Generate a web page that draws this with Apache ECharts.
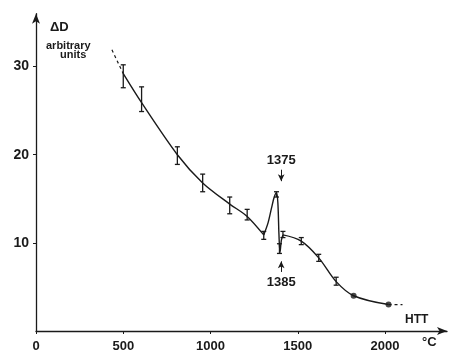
<!DOCTYPE html>
<html><head><meta charset="utf-8">
<script src="https://cdn.jsdelivr.net/npm/echarts@6/dist/echarts.min.js"></script>
<style>html,body{margin:0;padding:0;background:#fff}#c{width:450px;height:353px}</style>
</head><body><div id="c"></div>
<script>
// error-bar measurements
const barX    = [500, 605, 810, 955, 1110, 1210, 1305, 1378, 1395, 1415, 1520, 1620, 1720];
const barLow  = [27.6, 24.9, 18.9, 15.8, 13.3, 12.6, 10.4, 15.2, 8.8, 10.6, 9.8, 7.9, 5.2];
const barHigh = [30.2, 27.7, 20.9, 17.8, 15.2, 13.8, 11.3, 15.8, 9.9, 11.3, 10.6, 8.7, 6.1];
// solid-dot measurements
const dotX = [1820, 2020];
const dotY = [4.0, 3.0];
// fitted curve, in three pieces
const curveAX = [500, 605, 810, 955, 1110, 1210, 1305];
const curveAY = [29.2, 25.9, 20.0, 16.8, 14.4, 13.0, 10.9];
const curveBX = [1305, 1330, 1350, 1365, 1378, 1386, 1392, 1398, 1406, 1415];
const curveBY = [10.9, 12.3, 14.0, 15.2, 15.7, 14.5, 11.0, 8.9, 10.3, 10.9];
const curveCX = [1415, 1520, 1620, 1720, 1820, 2020];
const curveCY = [10.9, 10.2, 8.3, 5.6, 4.0, 3.0];
// dashed extrapolations
const dashStartX = [435, 500];
const dashStartY = [31.9, 29.2];
const dashEndX = [2020, 2100];
const dashEndY = [3.0, 3.0];
// annotations
const annX = [1405, 1405];
const annY = [19.4, 5.5];
const annText = ['1375', '1385'];
const arrowFromY = [18.3, 6.7];
const arrowToY = [17.0, 7.9];
// tick labels
const xTicks = [0, 500, 1000, 1500, 2000];
const yTicks = [10, 20, 30];

const ink = '#1a1a1a';
const font = 'Liberation Sans';
const chart = echarts.init(document.getElementById('c'), null, {renderer: 'canvas'});

const pairs = (xs, ys) => xs.map((x, i) => [x, ys[i]]);
const curveLine = {color: ink, width: 1.4};

chart.setOption({
  animation: false,
  backgroundColor: '#fff',
  grid: {left: 36, right: 3, top: 13.7, bottom: 21.4},
  xAxis: {
    type: 'value', min: 0, max: 2355, interval: 500,
    axisLine: {lineStyle: {color: ink, width: 1.3}, symbol: ['none', 'arrow'], symbolSize: [6, 10]},
    axisTick: {show: true, length: 3, lineStyle: {color: ink}},
    axisLabel: {color: ink, fontFamily: font, fontSize: 13, fontWeight: 'bold', margin: 9, showMaxLabel: false,
      formatter: v => xTicks.includes(v) ? String(v) : ''},
    splitLine: {show: false}
  },
  yAxis: {
    type: 'value', min: 0, max: 36, interval: 10,
    axisLine: {lineStyle: {color: ink, width: 1.3}, symbol: ['none', 'arrow'], symbolSize: [6, 10]},
    axisTick: {show: true, length: 3, lineStyle: {color: ink}},
    axisLabel: {color: ink, fontFamily: font, fontSize: 14, fontWeight: 'bold', margin: 7, showMinLabel: false, showMaxLabel: false,
      formatter: v => yTicks.includes(v) ? String(v) : ''},
    splitLine: {show: false}
  },
  series: [
    {type: 'line', data: pairs(curveAX, curveAY), smooth: 0.3, symbol: 'none', lineStyle: curveLine, z: 3},
    {type: 'line', data: pairs(curveBX, curveBY), smooth: 0.3, symbol: 'none', lineStyle: curveLine, z: 3,
     markLine: {silent: true, symbol: ['none', 'arrow'], symbolSize: [5, 7], label: {show: false},
       lineStyle: {color: ink, width: 1, type: 'solid'},
       data: annX.map((x, i) => [{coord: [x, arrowFromY[i]]}, {coord: [x, arrowToY[i]]}])}},
    {type: 'line', data: pairs(curveCX, curveCY), smooth: 0.35, symbol: 'none', lineStyle: curveLine, z: 3},
    {type: 'line', data: pairs(dashStartX, dashStartY), symbol: 'none',
     lineStyle: {color: ink, width: 1.2, type: [3, 3]}},
    {type: 'line', data: pairs(dashEndX, dashEndY), symbol: 'none',
     lineStyle: {color: ink, width: 1.2, type: [3, 3]}},
    {type: 'custom', data: barX.map((x, i) => [x, barLow[i], barHigh[i]]), z: 4,
     renderItem: (params, api) => {
       const lo = api.coord([api.value(0), api.value(1)]);
       const hi = api.coord([api.value(0), api.value(2)]);
       const w = 2.5;
       const st = {stroke: ink, lineWidth: 1.3};
       return {type: 'group', children: [
         {type: 'line', shape: {x1: lo[0], y1: lo[1], x2: hi[0], y2: hi[1]}, style: st},
         {type: 'line', shape: {x1: lo[0] - w, y1: lo[1], x2: lo[0] + w, y2: lo[1]}, style: st},
         {type: 'line', shape: {x1: hi[0] - w, y1: hi[1], x2: hi[0] + w, y2: hi[1]}, style: st}
       ]};
     }},
    {type: 'scatter', data: pairs(dotX, dotY), symbol: 'circle', symbolSize: 6,
     itemStyle: {color: ink}, z: 5},
    {type: 'custom', data: annX.map((x, i) => [x, annY[i]]), z: 6,
     renderItem: (params, api) => {
       const p = api.coord([api.value(0), api.value(1)]);
       return {type: 'text', x: p[0], y: p[1], style: {text: annText[params.dataIndex], fill: ink,
         font: 'bold 13px "Liberation Sans"', align: 'center', verticalAlign: 'middle'}};
     }}
  ],
  graphic: [
    {type: 'text', left: 50, top: 21, style: {text: 'ΔD', fill: ink, font: 'bold 13px "Liberation Sans"'}},
    {type: 'text', left: 46, top: 40, style: {text: 'arbitrary', fill: ink, font: 'bold 11px "Liberation Sans"'}},
    {type: 'text', left: 60, top: 49, style: {text: 'units', fill: ink, font: 'bold 11px "Liberation Sans"'}},
    {type: 'text', left: 405, top: 314, style: {text: 'HTT', fill: ink, font: 'bold 12px "Liberation Sans"'}},
    {type: 'text', left: 422, top: 336, style: {text: '°C', fill: ink, font: 'bold 13px "Liberation Sans"'}}
  ]
});
</script></body></html>
